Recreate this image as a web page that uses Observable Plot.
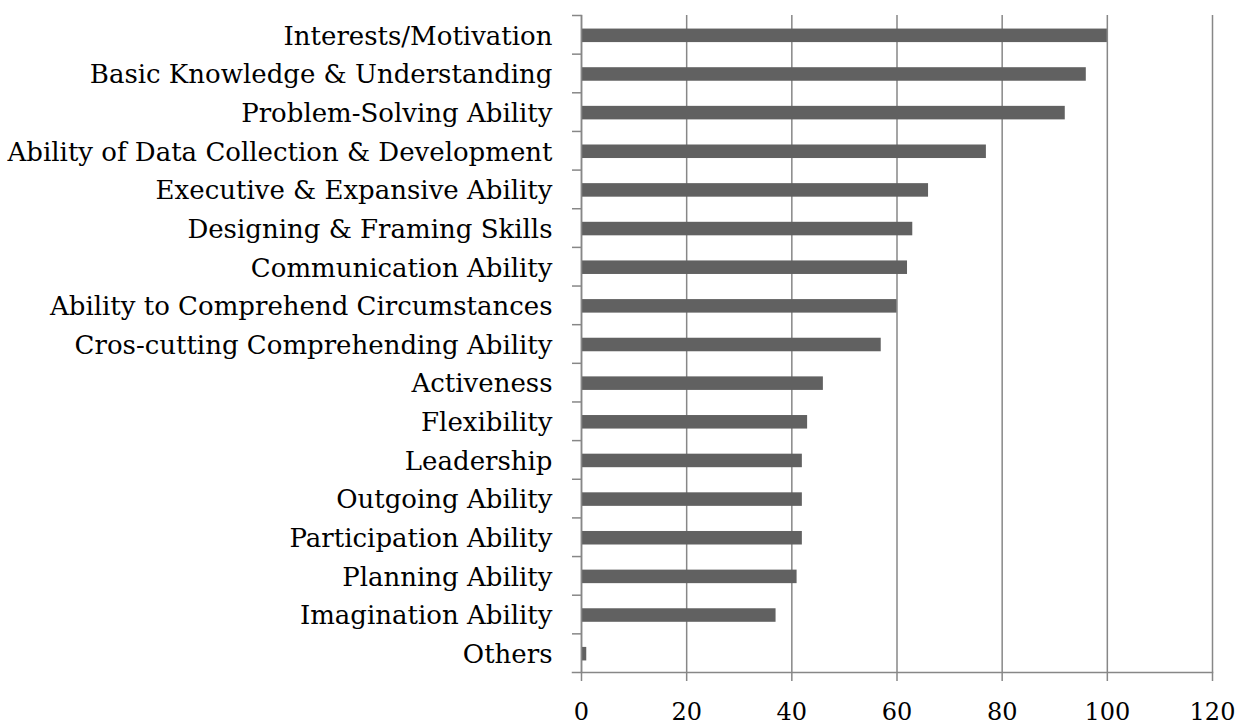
<!DOCTYPE html>
<html><head><meta charset="utf-8">
<script src="https://cdn.jsdelivr.net/npm/d3@7"></script>
<script src="https://cdn.jsdelivr.net/npm/@observablehq/plot@0.6"></script>
<style>html,body{margin:0;padding:0;background:#fff}</style>
</head><body><div id="chart"></div>
<script>
const categories = [
  "Interests/Motivation",
  "Basic Knowledge & Understanding",
  "Problem-Solving Ability",
  "Ability of Data Collection & Development",
  "Executive & Expansive Ability",
  "Designing & Framing Skills",
  "Communication Ability",
  "Ability to Comprehend Circumstances",
  "Cros-cutting Comprehending Ability",
  "Activeness",
  "Flexibility",
  "Leadership",
  "Outgoing Ability",
  "Participation Ability",
  "Planning Ability",
  "Imagination Ability",
  "Others"
];
const values = [100, 96, 92, 77, 66, 63, 62, 60, 57, 46, 43, 42, 42, 42, 41, 37, 1];
const xTicks = [0, 20, 40, 60, 80, 100, 120];
const xDomain = [0, 120];

const data = categories.map((c, i) => ({category: c, value: values[i]}));

const W = 1236, H = 726, mT = 15, mB = 54, mL = 581, mR = 24;
const step = (H - mT - mB) / categories.length;
const axisColor = "#878787";

const chart = Plot.plot({
  width: W, height: H,
  marginTop: mT, marginBottom: mB, marginLeft: mL, marginRight: mR,
  style: {fontFamily: "'DejaVu Serif', serif", fontSize: "26px", color: "#000", background: "#fff"},
  x: {domain: xDomain, ticks: xTicks},
  y: {domain: categories, paddingInner: 0.65, paddingOuter: 0.325, round: false},
  marks: [
    Plot.gridX(xTicks, {stroke: axisColor, strokeOpacity: 1, strokeWidth: 1.5}),
    Plot.barX(data, {x: "value", y: "category", fill: "#616161", dy: 1}),
    Plot.frame({anchor: "left", stroke: axisColor, strokeWidth: 1.5}),
    Plot.frame({anchor: "bottom", stroke: axisColor, strokeWidth: 1.5, insetLeft: -9}),
    Plot.axisY({tickSize: 9, dy: -step / 2, tickFormat: () => "", stroke: axisColor, strokeWidth: 1.5, label: null}),
    Plot.axisY({tickSize: 0, tickPadding: 29, dy: 1.5, label: null, fill: "#000"}),
    Plot.axisX({ticks: xTicks, tickSize: 9, tickPadding: 21, fontSize: 24, stroke: axisColor, strokeWidth: 1.5, label: null, fill: "#000"})
  ]
});
document.getElementById("chart").appendChild(chart);
</script>
</body></html>
